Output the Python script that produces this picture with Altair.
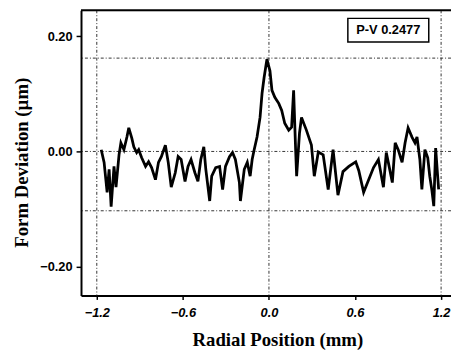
import altair as alt
import pandas as pd

# Radial position (mm) and form deviation (um)
pos = [-1.169, -1.149, -1.128, -1.114, -1.100, -1.080, -1.066, -1.045, -1.032, -1.011,
       -0.990, -0.977, -0.956, -0.942, -0.922, -0.908, -0.887, -0.860, -0.839, -0.818,
       -0.791, -0.770, -0.750, -0.722, -0.702, -0.681, -0.653, -0.633, -0.612, -0.585,
       -0.564, -0.543, -0.516, -0.495, -0.475, -0.454, -0.440, -0.413, -0.399, -0.371,
       -0.344, -0.323, -0.303, -0.275, -0.254, -0.234, -0.206, -0.199, -0.172, -0.151,
       -0.131, -0.117, -0.103, -0.083, -0.062, -0.048, -0.034, -0.014, 0.007, 0.021,
       0.041, 0.069, 0.089, 0.110, 0.138, 0.158, 0.172, 0.186, 0.193, 0.213,
       0.227, 0.261, 0.296, 0.316, 0.344, 0.378, 0.413, 0.447, 0.481, 0.516,
       0.557, 0.605, 0.626, 0.660, 0.695, 0.729, 0.763, 0.798, 0.818, 0.832,
       0.860, 0.880, 0.901, 0.928, 0.949, 0.970, 0.997, 1.018, 1.032, 1.052,
       1.066, 1.087, 1.107, 1.121, 1.135, 1.149, 1.162, 1.176, 1.183]
dev = [0.003, -0.019, -0.071, -0.031, -0.096, -0.026, -0.062, -0.006, 0.015, 0.003,
       0.025, 0.041, 0.023, 0.008, -0.002, 0.003, -0.011, -0.026, -0.018, -0.028,
       -0.049, -0.019, -0.009, 0.011, -0.019, -0.062, -0.037, -0.009, -0.014, -0.052,
       -0.026, -0.014, -0.037, -0.052, -0.014, 0.008, -0.031, -0.086, -0.043, -0.028,
       -0.026, -0.066, -0.026, -0.009, -0.002, -0.014, -0.054, -0.086, -0.031, -0.019,
       -0.043, -0.014, 0.003, 0.025, 0.059, 0.101, 0.128, 0.160, 0.140, 0.106,
       0.094, 0.083, 0.071, 0.049, 0.037, 0.042, 0.106, 0.003, -0.043, 0.032,
       0.059, 0.037, 0.011, -0.043, -0.001, -0.006, -0.066, 0.003, -0.076, -0.035,
       -0.026, -0.018, -0.033, -0.071, -0.049, -0.028, -0.014, -0.062, -0.002, -0.019,
       -0.054, 0.015, 0.003, -0.019, 0.015, 0.041, 0.025, 0.015, 0.025, -0.014,
       -0.066, 0.003, -0.011, -0.043, -0.066, -0.095, 0.006, -0.043, -0.066]

x_ticks = [-1.2, -0.6, 0.0, 0.6, 1.2]
y_ticks = [0.20, 0.00, -0.20]
h_lines = [0.162, 0.0, -0.103]
v_lines = [-1.2, 0.0, 1.2]
x_domain = [-1.310, 1.269]
y_domain = [-0.25, 0.245]
pv_label = "P-V 0.2477"
pv_box = [0.550, 1.114, 0.190, 0.231]

df = pd.DataFrame({"x": pos, "y": dev})
xs = alt.Scale(domain=x_domain, nice=False, zero=False)
ys = alt.Scale(domain=y_domain, nice=False, zero=False)

dash = [3, 2, 1, 2]

hl = alt.Chart(pd.DataFrame({"y": h_lines})).mark_rule(
    color="#333", strokeWidth=1, strokeDash=dash).encode(
    y=alt.Y("y:Q", scale=ys))
vl = alt.Chart(pd.DataFrame({"x": v_lines})).mark_rule(
    color="#333", strokeWidth=1, strokeDash=dash).encode(
    x=alt.X("x:Q", scale=xs))

line = alt.Chart(df).mark_line(color="black", strokeWidth=2.8, strokeJoin="miter").encode(
    x=alt.X("x:Q", scale=xs, title="Radial Position (mm)",
            axis=alt.Axis(values=x_ticks, format=".1f", labelFont="Liberation Sans",
                          labelFontWeight="bold", labelFontStyle="italic", labelFontSize=13,
                          labelColor="black", labelPadding=7,
                          titleFont="Liberation Serif", titleFontWeight="bold",
                          titleFontSize=19, titleColor="black", titleX=199, titleY=45,
                          titleBaseline="middle",
                          domainColor="black", domainWidth=2, tickColor="black",
                          tickWidth=1.5, tickSize=4, grid=False)),
    y=alt.Y("y:Q", scale=ys, title="Form Deviation (µm)",
            axis=alt.Axis(values=y_ticks, format=".2f", labelFont="Liberation Sans",
                          labelFontWeight="bold", labelFontSize=13, labelColor="black",
                          labelPadding=4,
                          titleFont="Liberation Serif", titleFontWeight="bold",
                          titleFontSize=19, titleColor="black", titleX=-60, titleY=154,
                          titleBaseline="middle", titleAngle=-90, titleAlign="center",
                          domainColor="black", domainWidth=2, tickColor="black",
                          tickWidth=1.5, tickSize=5, grid=False)),
)

top = alt.Chart(pd.DataFrame({"y": [y_domain[1]]})).mark_rule(
    color="black", strokeWidth=2).encode(y=alt.Y("y:Q", scale=ys))

box = alt.Chart(pd.DataFrame({"x": [pv_box[0]], "x2": [pv_box[1]],
                              "y": [pv_box[2]], "y2": [pv_box[3]]})).mark_rect(
    fill="white", stroke="black", strokeWidth=1.5).encode(
    x=alt.X("x:Q", scale=xs), x2="x2:Q", y=alt.Y("y:Q", scale=ys), y2="y2:Q")
txt = alt.Chart(pd.DataFrame({"x": [(pv_box[0] + pv_box[1]) / 2],
                              "y": [(pv_box[2] + pv_box[3]) / 2],
                              "t": [pv_label]})).mark_text(
    font="Liberation Sans", fontWeight="bold", fontSize=13, color="black",
    baseline="middle", align="center").encode(
    x=alt.X("x:Q", scale=xs), y=alt.Y("y:Q", scale=ys), text="t:N")

chart = alt.layer(hl, vl, line, top, box, txt).properties(
    width=375, height=289,
    padding={"left": 74, "top": 0, "right": 0, "bottom": 57},
    autosize=alt.AutoSizeParams(type="none"),
).configure_view(stroke=None).configure(background="white")

chart.save("out.html", embed_options={"renderer": "svg", "actions": False})
